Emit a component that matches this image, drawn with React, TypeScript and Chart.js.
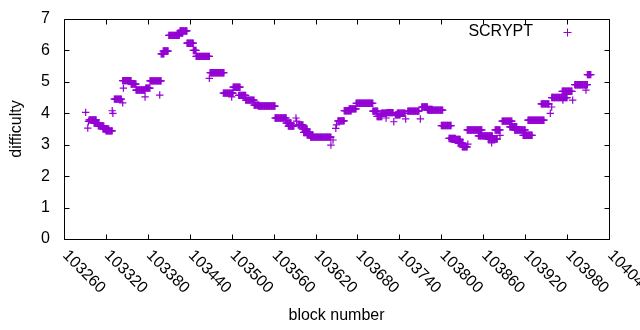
import React, { useEffect, useRef } from "react";
import { Chart, registerables } from "chart.js";

Chart.register(...registerables);

// Runs of constant difficulty: first block, last block, difficulty
const runStart = [
  103291, 103294, 103295, 103296, 103303, 103309, 103316, 103320, 103329, 103330,
  103332, 103344, 103345, 103344, 103356, 103363, 103376, 103377, 103383, 103397,
  103399, 103402, 103410, 103423, 103426, 103436, 103445, 103449, 103468, 103469,
  103488, 103500, 103502, 103510, 103520, 103532, 103538, 103562, 103578, 103581,
  103592, 103593, 103595, 103601, 103603, 103608, 103613, 103642, 103645, 103649,
  103650, 103652, 103661, 103668, 103678, 103702, 103708, 103714, 103721, 103722,
  103732, 103734, 103737, 103749, 103752, 103770, 103772, 103780, 103781, 103800,
  103811, 103815, 103824, 103830, 103838, 103837, 103853, 103867, 103872, 103877,
  103884, 103887, 103898, 103905, 103917, 103924, 103943, 103956, 103958, 103958,
  103973, 103974, 103988, 103991, 104007, 104009,
];
const runEnd = [
  103291, 103294, 103295, 103306, 103310, 103317, 103324, 103329, 103329, 103330,
  103342, 103344, 103345, 103356, 103363, 103376, 103376, 103383, 103399, 103397,
  103403, 103409, 103425, 103430, 103436, 103445, 103449, 103468, 103468, 103489,
  103502, 103500, 103512, 103520, 103532, 103539, 103562, 103578, 103585, 103589,
  103592, 103593, 103602, 103608, 103612, 103616, 103642, 103642, 103645, 103649,
  103650, 103661, 103671, 103678, 103702, 103709, 103715, 103721, 103721, 103731,
  103732, 103741, 103748, 103749, 103768, 103770, 103780, 103787, 103802, 103814,
  103820, 103827, 103831, 103837, 103838, 103858, 103873, 103880, 103872, 103884,
  103884, 103901, 103908, 103920, 103930, 103947, 103954, 103956, 103958, 103980,
  103987, 103974, 103988, 104009, 104007, 104014,
];
const runValue = [
  4.03, 3.53, 3.74, 3.79, 3.69, 3.6, 3.5, 3.44, 4.08, 4.0,
  4.45, 4.33, 4.8, 5.04, 4.93, 4.74, 4.52, 4.8, 5.03, 4.58,
  5.89, 5.98, 6.48, 6.55, 6.62, 6.23, 6.0, 5.81, 5.11, 5.29,
  4.64, 4.52, 4.83, 4.57, 4.42, 4.26, 4.23, 3.85, 3.69, 3.59,
  3.85, 3.75, 3.63, 3.5, 3.39, 3.31, 3.24, 2.99, 3.15, 3.52,
  3.63, 3.76, 4.08, 4.14, 4.32, 4.07, 3.9, 4.0, 3.85, 4.02,
  3.73, 3.95, 4.0, 3.82, 4.07, 3.82, 4.2, 4.12, 4.1, 3.61,
  3.2, 3.17, 3.05, 2.93, 3.02, 3.47, 3.28, 3.18, 3.06, 3.47,
  3.3, 3.75, 3.57, 3.47, 3.3, 3.78, 4.3, 4.0, 4.2, 4.5,
  4.7, 4.42, 4.42, 4.91, 4.74, 5.23,
];

const xMin = 103260;
const xMax = 104040;
const xStep = 60;
const yMin = 0;
const yMax = 7;
const seriesName = "SCRYPT";
const xTitle = "block number";
const yTitle = "difficulty";

const PURPLE = "#9400D3";
const FONT = '16px "Liberation Sans", Arial, sans-serif';

export default function App() {
  const ref = useRef<HTMLCanvasElement | null>(null);

  useEffect(() => {
    document.body.style.margin = "0";
    const canvas = ref.current;
    if (!canvas) return;

    const points: { x: number; y: number }[] = [];
    for (let i = 0; i < runStart.length; i++) {
      for (let b = runStart[i]; b <= runEnd[i]; b++) {
        points.push({ x: b, y: runValue[i] });
      }
    }

    const decor = {
      id: "gnuplotDecor",
      afterDraw(chart: any) {
        const ctx = chart.ctx as CanvasRenderingContext2D;
        const { left, right, top, bottom } = chart.chartArea;
        const xs = chart.scales.x;
        const ys = chart.scales.y;
        ctx.save();
        ctx.strokeStyle = "#000";
        ctx.lineWidth = 1;
        ctx.beginPath();
        ctx.rect(left + 0.5, top + 0.5, right - left, bottom - top);
        ctx.stroke();
        // inward ticks
        ctx.beginPath();
        xs.ticks.forEach((t: any) => {
          const px = Math.round(xs.getPixelForValue(t.value)) + 0.5;
          ctx.moveTo(px, bottom + 0.5);
          ctx.lineTo(px, bottom + 0.5 - 5);
          ctx.moveTo(px, top + 0.5);
          ctx.lineTo(px, top + 0.5 + 5);
        });
        ys.ticks.forEach((t: any) => {
          const py = Math.round(ys.getPixelForValue(t.value)) + 0.5;
          ctx.moveTo(left + 0.5, py);
          ctx.lineTo(left + 0.5 + 5, py);
          ctx.moveTo(right + 0.5, py);
          ctx.lineTo(right + 0.5 - 5, py);
        });
        ctx.stroke();

        ctx.fillStyle = "#000";
        ctx.font = FONT;
        // y tick labels
        ctx.textAlign = "right";
        ctx.textBaseline = "middle";
        ys.ticks.forEach((t: any) => {
          const py = ys.getPixelForValue(t.value);
          ctx.fillText(String(t.value), left - 14, py);
        });
        // x tick labels rotated by -45 (gnuplot style)
        xs.ticks.forEach((t: any) => {
          const px = xs.getPixelForValue(t.value);
          ctx.save();
          ctx.translate(px + 1, bottom + 14);
          ctx.rotate(Math.PI / 4);
          ctx.textAlign = "left";
          ctx.textBaseline = "middle";
          ctx.fillText(String(t.value), 0, 0);
          ctx.restore();
        });
        // axis titles
        ctx.textAlign = "center";
        ctx.textBaseline = "middle";
        ctx.fillText(xTitle, (left + right) / 2, 316);
        ctx.save();
        ctx.translate(17, (top + bottom) / 2);
        ctx.rotate(-Math.PI / 2);
        ctx.fillText(yTitle, 0, 0);
        ctx.restore();
        // key
        ctx.textAlign = "right";
        ctx.fillText(seriesName, 533, 32);
        ctx.strokeStyle = PURPLE;
        ctx.beginPath();
        ctx.moveTo(563.5, 32.5);
        ctx.lineTo(571.5, 32.5);
        ctx.moveTo(567.5, 28.5);
        ctx.lineTo(567.5, 36.5);
        ctx.stroke();
        ctx.restore();
      },
    };

    const chart = new Chart(canvas, {
      type: "scatter",
      data: {
        datasets: [
          {
            label: seriesName,
            data: points,
            pointStyle: "cross",
            pointRadius: 3.7,
            pointHoverRadius: 3.7,
            borderWidth: 1.2,
            borderColor: PURPLE,
            backgroundColor: PURPLE,
            showLine: false,
          },
        ],
      },
      options: {
        animation: false,
        responsive: false,
        devicePixelRatio: 1,
        events: [],
        layout: { padding: { left: 64, right: 31, top: 19, bottom: 91 } },
        plugins: {
          legend: { display: false },
          tooltip: { enabled: false },
        },
        scales: {
          x: {
            type: "linear",
            min: xMin,
            max: xMax,
            ticks: { display: false, stepSize: xStep },
            grid: { display: false, drawTicks: false },
            border: { display: false },
          },
          y: {
            type: "linear",
            min: yMin,
            max: yMax,
            ticks: { display: false, stepSize: 1 },
            grid: { display: false, drawTicks: false },
            border: { display: false },
          },
        },
      },
      plugins: [decor],
    });
    return () => chart.destroy();
  }, []);

  return (
    <div style={{ width: 640, height: 330, background: "#fff" }}>
      <canvas ref={ref} width={640} height={330} style={{ display: "block" }} />
    </div>
  );
}
